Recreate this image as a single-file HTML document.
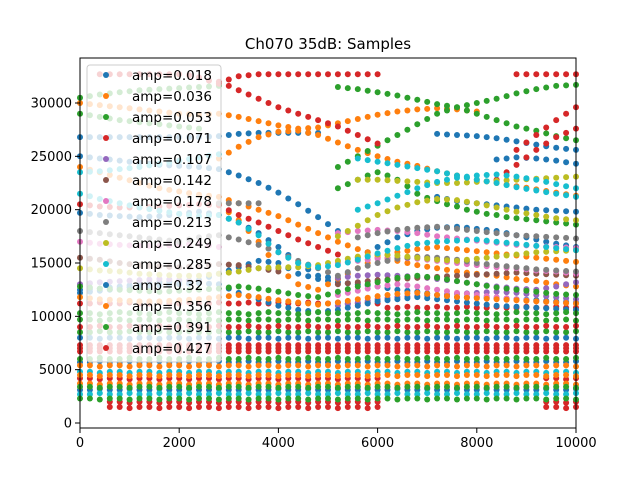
<!DOCTYPE html>
<html><head><meta charset="utf-8"><style>
body{margin:0;background:#fff;}
svg{display:block;font-family:"DejaVu Sans","Liberation Sans",sans-serif;}
</style></head><body>
<svg id="chart" width="640" height="480" viewBox="0 0 640 480">
<rect width="640" height="480" fill="#fff"/>
<text x="328" y="49" text-anchor="middle" font-size="15">Ch070 35dB: Samples</text>
<g id="marks"></g>
<rect x="80" y="58" width="496" height="370" fill="none" stroke="#000" stroke-width="1"/>
<g id="axes"></g>
<g id="legend"></g>
</svg>
<script>
// ---- data (y in thousands of samples) ----
const xTicks = [0, 2000, 4000, 6000, 8000, 10000];
const yTicks = [0, 5000, 10000, 15000, 20000, 25000, 30000];
const amps = ["0.018","0.036","0.053","0.071","0.107","0.142","0.178","0.213","0.249","0.285","0.32","0.356","0.391","0.427"];
const xs51 = [0,200,400,600,800,1000,1200,1400,1600,1800,2000,2200,2400,2600,2800,3000,3200,3400,3600,3800,4000,4200,4400,4600,4800,5000,5200,5400,5600,5800,6000,6200,6400,6600,6800,7000,7200,7400,7600,7800,8000,8200,8400,8600,8800,9000,9200,9400,9600,9800,10000];
const n=null;
const trackSeries = [3,3,2,2,2,1,1,1,1,0,0,0,0,0,9,9,9,8,8,8,7,7,7,6,6,6,4,4,5,5,3,10,11,12];
const trackValues = [
[n,n,32.7,32.7,32.7,32.7,32.7,32.7,32.7,32.7,32.7,32.6,32.4,32.1,31.8,32.2,32.5,32.6,32.7,32.7,32.7,32.7,32.7,32.7,32.7,32.7,32.7,32.7,32.7,32.7,32.7,n,n,n,n,n,n,n,n,n,n,n,n,n,32.7,32.7,32.7,32.7,32.7,32.7,32.7],
[n,n,n,n,n,n,n,n,n,n,n,n,n,n,32.0,31.6,31.2,30.8,30.4,30.0,29.6,29.3,29.0,28.7,28.4,28.1,27.8,27.4,27.0,26.6,26.2,n,n,n,n,n,n,n,n,n,n,n,n,n,25.6,26.3,27.0,27.7,28.4,29.0,29.6],
[30.5,30.65,30.8,30.9,31.0,31.1,31.2,31.25,31.3,31.35,31.4,31.45,31.5,31.55,31.6,n,n,n,n,n,n,n,n,n,n,n,31.5,31.4,31.3,31.15,31.0,30.85,30.7,30.5,30.3,30.1,29.9,29.75,29.6,29.8,30.0,30.2,30.4,30.65,30.9,31.1,31.3,31.45,31.6,31.65,31.7],
[29.0,28.85,28.7,28.55,28.4,28.3,28.2,28.1,28.0,27.9,27.8,27.7,27.6,n,n,n,n,n,n,n,n,n,n,n,n,n,24.0,24.5,25.0,25.5,26.0,26.5,27.0,27.5,28.0,28.5,29.0,29.3,29.6,29.3,29.0,28.7,28.4,28.1,27.8,27.6,27.4,27.15,26.9,26.7,26.5],
[n,n,n,n,n,n,n,n,n,n,n,n,n,n,n,n,n,n,n,n,n,n,n,n,n,n,22.0,22.4,22.8,23.2,23.5,23.2,22.8,22.2,21.5,21.1,20.8,20.5,20.3,20.0,19.8,19.6,19.5,19.3,19.2,19.1,19.0,18.9,18.8,18.7,18.6],
[30.0,29.9,29.8,29.7,29.6,29.5,29.4,29.3,29.2,29.1,29.0,28.95,28.9,28.95,29.0,28.85,28.7,28.5,28.3,28.1,27.9,27.75,27.6,27.65,27.7,27.9,28.1,28.3,28.5,28.7,28.9,29.05,29.2,29.3,29.4,29.45,29.5,29.45,29.4,29.3,29.2,n,n,n,n,n,n,n,n,n,n],
[n,n,n,n,n,n,n,n,n,n,n,n,n,n,24.8,25.35,25.9,26.35,26.8,27.05,27.3,27.35,27.4,27.2,27.0,26.65,26.3,25.95,25.6,25.3,25.0,24.75,24.5,24.3,24.1,23.85,23.6,23.4,23.2,23.0,22.8,22.65,22.5,22.35,22.2,22.05,21.9,21.75,21.6,21.45,21.3],
[24.0,23.75,23.5,23.25,23.0,22.75,22.5,22.25,22.0,21.85,21.7,21.55,21.4,21.3,21.2,20.9,20.6,20.3,20.0,19.7,19.4,19.0,18.6,18.2,17.8,17.4,17.0,16.65,16.3,16.0,15.7,15.45,15.2,15.0,14.8,14.65,14.5,14.35,14.2,14.1,14.0,13.9,13.8,13.65,13.5,13.4,13.3,13.15,13.0,12.9,12.8],
[n,n,n,n,n,n,n,n,n,n,n,n,n,n,20.5,19.75,19.0,18.0,17.0,15.75,14.5,13.75,13.0,12.75,12.5,13.0,13.5,14.0,14.5,15.0,15.5,15.75,16.0,16.15,16.3,16.4,16.5,16.4,16.3,16.2,16.1,16.0,15.9,15.8,15.7,15.6,15.5,15.4,15.3,15.2,15.1],
[26.8,26.8,26.8,26.8,26.8,26.8,26.8,26.8,26.8,26.8,26.8,26.8,26.8,26.85,26.9,27.0,27.1,27.15,27.2,27.2,27.2,27.2,27.2,27.2,27.2,n,n,n,n,n,n,n,n,n,n,n,27.1,27.05,27.0,26.95,26.9,26.8,26.7,26.55,26.4,26.25,26.1,25.95,25.8,25.7,25.6],
[25.0,24.9,24.8,24.7,24.6,24.5,24.4,24.3,24.2,24.15,24.1,24.05,24.0,23.9,23.8,23.5,23.2,22.85,22.5,22.05,21.6,21.05,20.5,19.9,19.3,18.65,18.0,n,n,n,n,n,n,n,n,n,n,n,n,n,n,n,24.7,24.8,24.9,24.85,24.8,24.7,24.6,24.45,24.3],
[19.7,19.6,19.5,19.45,19.4,19.35,19.3,19.35,19.4,19.5,19.6,19.7,19.8,19.65,19.5,19.15,18.8,18.3,17.8,17.15,16.5,15.75,15.0,14.4,13.8,13.65,13.5,n,n,n,n,n,n,n,n,n,21.2,21.0,20.8,20.7,20.6,20.5,20.4,20.3,20.2,20.1,20.0,19.95,19.9,19.85,19.8],
[n,n,n,n,n,n,n,n,n,n,n,n,n,n,n,n,n,n,n,n,n,n,n,n,n,n,n,n,15.5,16.0,16.5,16.95,17.4,17.7,18.0,18.15,18.3,18.35,18.4,18.3,18.2,18.1,18.0,17.8,17.6,17.4,17.2,17.0,16.8,16.65,16.5],
[12.5,12.55,12.6,12.7,12.8,12.9,13.0,13.1,13.2,13.25,13.3,13.35,13.4,13.7,14.0,14.3,14.6,14.9,15.2,15.1,15.0,14.5,14.0,13.75,13.5,13.35,13.2,13.1,13.0,12.9,12.8,12.65,12.5,12.4,12.3,12.15,12.0,11.9,11.8,11.8,11.8,11.75,11.7,11.65,11.6,11.55,11.5,11.45,11.4,11.35,11.3],
[23.5,23.55,23.6,23.7,23.8,23.9,24.0,24.15,24.3,24.45,24.6,24.75,24.9,25.05,25.2,n,n,n,n,n,n,n,n,n,n,n,n,n,24.8,24.65,24.5,24.35,24.2,24.05,23.9,23.75,23.6,23.4,23.2,23.0,22.8,22.65,22.5,22.3,22.1,21.95,21.8,21.65,21.5,21.35,21.2],
[n,n,n,n,n,n,n,n,n,n,n,n,n,n,n,n,n,n,n,n,n,n,n,n,n,n,n,n,20.0,20.3,20.6,20.95,21.3,21.65,22.0,22.3,22.6,22.8,23.0,23.1,23.2,23.25,23.3,23.2,23.1,22.95,22.8,22.6,22.4,22.2,22.0],
[21.5,21.25,21.0,20.8,20.6,20.4,20.2,20.05,19.9,19.75,19.6,19.5,19.4,19.45,19.5,19.15,18.8,18.2,17.6,16.8,16.0,15.5,15.0,14.8,14.6,14.7,14.8,15.05,15.3,15.6,15.9,16.15,16.4,16.6,16.8,16.9,17.0,17.05,17.1,17.15,17.2,17.1,17.0,16.9,16.8,16.7,16.6,16.5,16.4,16.3,16.2],
[n,n,n,n,n,n,n,n,n,n,n,n,n,n,n,n,n,n,n,n,n,n,n,n,n,n,n,n,22.8,22.8,22.8,22.75,22.7,22.65,22.6,22.55,22.5,22.5,22.5,22.55,22.6,22.65,22.7,22.75,22.8,22.85,22.9,22.95,23.0,23.05,23.1],
[n,n,n,n,n,n,n,n,n,n,n,n,n,n,n,n,n,n,n,n,n,n,n,n,n,n,17.5,18.0,18.5,19.0,19.5,19.85,20.2,20.45,20.7,20.85,21.0,20.95,20.9,20.75,20.6,20.4,20.2,20.0,19.8,19.65,19.5,19.35,19.2,19.1,19.0],
[14.5,14.4,14.3,14.25,14.2,14.1,14.0,13.95,13.9,13.85,13.8,13.8,13.8,13.9,14.0,14.1,14.2,14.35,14.5,14.55,14.6,14.6,14.6,14.7,14.8,15.0,15.2,15.4,15.6,15.7,15.8,15.75,15.7,15.6,15.5,15.4,15.3,15.25,15.2,15.3,15.4,15.5,15.6,15.7,15.8,15.9,16.0,16.05,16.1,16.15,16.2],
[n,n,n,n,n,n,n,n,n,n,n,n,n,n,20.6,20.6,20.6,20.6,20.6,n,n,n,n,n,n,n,n,n,n,n,n,n,n,n,n,n,n,n,n,n,n,n,n,n,n,n,n,n,n,n,n],
[18.0,17.9,17.8,17.7,17.6,17.5,17.4,17.3,17.2,17.1,17.0,17.2,17.4,17.5,17.6,17.4,17.2,16.95,16.7,16.35,16.0,15.6,15.2,14.85,14.5,14.15,13.8,14.15,14.5,14.75,15.0,15.2,15.4,15.5,15.6,15.55,15.5,15.4,15.3,15.15,15.0,14.9,14.8,14.7,14.6,14.5,14.4,14.35,14.3,14.25,14.2],
[n,n,n,n,n,n,n,n,n,n,n,n,n,n,n,n,n,n,n,n,n,n,n,n,n,n,n,n,17.4,17.6,17.8,17.95,18.1,18.2,18.3,18.35,18.4,18.3,18.2,18.1,18.0,17.9,17.8,17.7,17.6,17.55,17.5,17.45,17.4,17.35,17.3],
[n,n,n,n,n,n,n,n,n,n,n,n,n,n,n,n,n,n,n,n,n,n,n,n,n,n,17.8,17.9,18.0,18.05,18.1,18.05,18.0,17.9,17.8,17.65,17.5,17.4,17.3,17.2,17.1,17.0,16.9,16.8,16.7,16.65,16.6,16.55,16.5,16.45,16.4],
[17.0,16.9,16.8,16.75,16.7,16.65,16.6,16.6,16.6,16.65,16.7,16.75,16.8,16.65,16.5,n,n,n,n,n,n,n,n,n,n,n,15.0,15.1,15.2,15.3,15.4,15.45,15.5,15.45,15.4,15.3,15.2,15.1,15.0,14.9,14.8,14.7,14.6,14.55,14.5,14.4,14.3,14.25,14.2,14.1,14.0],
[n,n,n,n,n,n,n,n,n,n,n,n,n,n,n,n,n,n,n,n,n,n,n,n,n,n,12.0,12.2,12.4,12.6,12.8,12.9,13.0,12.9,12.8,12.65,12.5,12.35,12.2,12.1,12.0,11.9,11.8,11.7,11.6,11.5,11.4,11.35,11.3,11.25,11.2],
[13.0,13.1,13.2,13.25,13.3,13.35,13.4,13.45,13.5,13.45,13.4,13.3,13.2,n,n,n,n,n,n,n,n,n,n,n,n,n,13.6,13.7,13.8,13.85,13.9,13.85,13.8,13.75,13.7,13.6,13.5,13.4,13.3,13.15,13.0,12.9,12.8,12.7,12.6,12.55,12.5,12.65,12.8,13.0,13.2],
[n,n,n,n,n,n,n,n,n,n,n,n,n,n,n,n,n,n,n,n,n,n,n,n,n,n,11.0,11.15,11.3,11.45,11.6,11.7,11.8,11.85,11.9,11.95,12.0,12.05,12.1,12.15,12.2,12.25,12.3,12.25,12.2,12.1,12.0,11.9,11.8,11.7,11.6],
[n,n,n,n,n,n,n,n,n,n,n,n,n,n,n,n,n,n,n,n,n,n,n,n,n,n,13.0,13.1,13.2,13.3,13.4,13.45,13.5,13.55,13.6,13.65,13.7,13.75,13.8,13.85,13.9,13.95,14.0,14.05,14.1,14.05,14.0,13.95,13.9,13.85,13.8],
[15.5,15.4,15.3,15.15,15.0,14.9,14.8,14.75,14.7,14.65,14.6,14.65,14.7,14.8,14.9,14.85,14.8,14.65,14.5,14.35,14.2,n,n,n,n,n,n,n,n,n,n,n,n,n,n,n,n,n,n,n,n,n,n,n,n,n,n,n,n,n,n],
[20.5,20.4,20.3,20.25,20.2,20.2,20.2,20.25,20.3,20.35,20.4,20.45,20.5,20.45,20.4,19.95,19.5,19.15,18.8,18.4,18.0,17.6,17.2,16.85,16.5,16.15,15.8,n,n,n,n,n,n,n,n,n,n,n,n,n,n,n,22.8,23.5,24.2,24.9,25.6,26.2,26.8,27.2,27.6],
[12.2,12.3,12.4,12.5,12.6,12.7,12.8,12.85,12.9,12.95,13.0,13.05,13.1,13.05,13.0,12.6,12.2,11.9,11.6,11.3,11.0,10.8,10.6,10.5,10.4,10.5,10.6,10.8,11.0,11.2,11.4,11.5,11.6,11.7,11.8,11.7,11.6,11.5,11.4,11.3,11.2,11.1,11.0,10.95,10.9,10.85,10.8,10.75,10.7,10.65,10.6],
[11.8,11.7,11.6,11.55,11.5,11.45,11.4,11.4,11.4,11.45,11.5,11.55,11.6,11.7,11.8,11.9,12.0,11.9,11.8,11.65,11.5,11.4,11.3,11.2,11.1,11.2,11.3,11.45,11.6,11.75,11.9,12.0,12.1,12.15,12.2,12.1,12.0,11.9,11.8,11.75,11.7,11.65,11.6,11.55,11.5,11.45,11.4,11.35,11.3,11.25,11.2],
[12.8,12.7,12.6,12.55,12.5,12.45,12.4,12.35,12.3,12.35,12.4,12.45,12.5,12.55,12.6,12.7,12.8,12.7,12.6,12.45,12.3,12.15,12.0,11.9,11.8,12.05,12.3,12.55,12.8,13.0,13.2,13.4,13.6,13.7,13.8,13.7,13.6,13.45,13.3,13.15,13.0,12.85,12.7,12.6,12.5,12.4,12.3,12.2,12.1,12.05,12.0]
];
// dense lower bands
const bandSeries = [12,3,12,0,12,11,9,3,0,12,11,3,3,13,13,13,13,12,10,11,12,9];
const bandValues = [
[10.3,10.3,10.2,10.3,10.4,10.3,10.3,10.2,10.3,10.4,10.3,10.3,10.2,10.3,10.4,10.3,10.3,10.2,10.3,10.4,10.3,10.3,10.2,10.3,10.4,10.3,10.3,10.2,10.3,10.4,10.3,10.3,10.2,10.3,10.4,10.3,10.3,10.2,10.3,10.4,10.3,10.3,10.2,10.3,10.4,10.3,10.3,10.2,10.3,10.4,10.3],
[11.2,11.2,11.3,11.2,11.2,11.3,11.2,11.2,11.3,11.2,11.2,11.3,11.2,11.2,11.3,11.2,11.2,11.3,11.2,11.2,11.3,11.2,11.2,11.3,11.2,11.2,11.3,11.2,11.2,11.3,11.2,10.8,10.8,10.9,10.8,10.8,10.9,10.8,10.8,10.9,10.8,10.8,10.9,10.8,10.8,10.9,10.8,10.8,10.9,10.8,10.8],
[8.5,8.5,8.6,8.5,8.5,8.6,8.5,8.5,8.6,8.5,8.5,8.6,8.5,8.5,8.6,8.5,8.5,8.6,8.5,8.5,8.6,8.5,8.5,8.6,8.5,8.5,8.6,8.5,8.5,8.6,8.5,8.5,8.6,8.5,8.5,8.6,8.5,8.5,8.6,8.5,8.5,8.6,8.5,8.5,8.6,8.5,8.5,8.6,8.5,8.5,8.6],
[8.0,8.0,7.9,8.0,8.0,7.9,8.0,8.0,7.9,8.0,8.0,7.9,8.0,8.0,7.9,8.0,8.0,7.9,8.0,8.0,7.9,8.0,8.0,7.9,8.0,8.0,7.9,8.0,8.0,7.9,8.0,8.0,7.9,8.0,8.0,7.9,8.0,8.0,7.9,8.0,8.0,7.9,8.0,8.0,7.9,8.0,8.0,7.9,8.0,8.0,7.9],
[6.0,6.0,6.1,6.0,6.0,6.1,6.0,6.0,6.1,6.0,6.0,6.1,6.0,6.0,6.1,6.0,6.0,6.1,6.0,6.0,6.1,6.0,6.0,6.1,6.0,6.0,6.1,6.0,6.0,6.1,6.0,6.0,6.1,6.0,6.0,6.1,6.0,6.0,6.1,6.0,6.0,6.1,6.0,6.0,6.1,6.0,6.0,6.1,6.0,6.0,6.1],
[5.4,5.4,5.3,5.4,5.4,5.3,5.4,5.4,5.3,5.4,5.4,5.3,5.4,5.4,5.3,5.4,5.4,5.3,5.4,5.4,5.3,5.4,5.4,5.3,5.4,5.4,5.3,5.4,5.4,5.3,5.4,5.4,5.3,5.4,5.4,5.3,5.4,5.4,5.3,5.4,5.4,5.3,5.4,5.4,5.3,5.4,5.4,5.3,5.4,5.4,5.3],
[4.8,4.8,4.7,4.8,4.8,4.7,4.8,4.8,4.7,4.8,4.8,4.7,4.8,4.8,4.7,4.8,4.8,4.7,4.8,4.8,4.7,4.8,4.8,4.7,4.8,4.8,4.7,4.8,4.8,4.7,4.8,4.8,4.7,4.8,4.8,4.7,4.8,4.8,4.7,4.8,4.8,4.7,4.8,4.8,4.7,4.8,4.8,4.7,4.8,4.8,4.7],
[4.2,4.2,4.1,4.2,4.2,4.1,4.2,4.2,4.1,4.2,4.2,4.1,4.2,4.2,4.1,4.2,4.2,4.1,4.2,4.2,4.1,4.2,4.2,4.1,4.2,4.2,4.1,4.2,4.2,4.1,4.2,n,n,n,n,n,n,n,n,n,n,n,n,n,n,n,n,4.2,4.2,4.1,4.2],
[3.1,3.1,3.2,3.1,3.1,3.2,3.1,3.1,3.2,3.1,3.1,3.2,3.1,3.1,3.2,3.1,3.1,3.2,3.1,3.1,3.2,3.1,3.1,3.2,3.1,3.1,3.2,3.1,3.1,3.2,3.1,3.1,3.2,3.1,3.1,3.2,3.1,3.1,3.2,3.1,3.1,3.2,3.1,3.1,3.2,3.1,3.1,3.2,3.1,3.1,3.2],
[2.3,2.3,2.2,2.3,2.3,2.2,2.3,2.3,2.2,2.3,2.3,2.2,2.3,2.3,2.2,2.3,2.3,2.2,2.3,2.3,2.2,2.3,2.3,2.2,2.3,2.3,2.2,2.3,2.3,2.2,2.3,2.3,2.2,2.3,2.3,2.2,2.3,2.3,2.2,2.3,2.3,2.2,2.3,2.3,2.2,2.3,2.3,2.2,2.3,2.3,2.2],
[3.7,3.7,3.6,3.7,3.7,3.6,3.7,3.7,3.6,3.7,3.7,3.6,3.7,3.7,3.6,3.7,3.7,3.6,3.7,3.7,3.6,3.7,3.7,3.6,3.7,3.7,3.6,3.7,3.7,3.6,3.7,3.7,3.6,3.7,3.7,3.6,3.7,3.7,3.6,3.7,3.7,3.6,3.7,3.7,3.6,3.7,3.7,3.6,3.7,3.7,3.6],
[n,n,n,2.0,2.0,1.9,2.0,2.0,1.9,2.0,2.0,1.9,2.0,2.0,1.9,2.0,2.0,1.9,2.0,2.0,1.9,2.0,2.0,1.9,2.0,2.0,1.9,2.0,2.0,1.9,2.0,n,n,n,n,n,n,n,n,n,n,n,n,n,n,n,n,2.0,2.0,1.9,2.0],
[n,n,n,1.5,1.5,1.4,1.5,1.5,1.4,1.5,1.5,1.4,1.5,1.5,1.4,1.5,1.5,1.4,1.5,1.5,1.4,1.5,1.5,1.4,1.5,1.5,1.4,1.5,1.5,1.4,1.5,n,n,n,n,n,n,n,n,n,n,n,n,n,n,n,n,1.5,1.5,1.4,1.5],
[9.0,9.0,9.1,9.0,9.0,9.1,9.0,9.0,9.1,9.0,9.0,9.1,9.0,9.0,9.1,9.0,9.0,9.1,9.0,9.0,9.1,9.0,9.0,9.1,9.0,9.0,9.1,9.0,9.0,9.1,9.0,9.0,9.1,9.0,9.0,9.1,9.0,9.0,9.1,9.0,9.0,9.1,9.0,9.0,9.1,9.0,9.0,9.1,9.0,9.0,9.1],
[7.3,7.3,7.3,7.3,7.3,7.3,7.3,7.3,7.3,7.3,7.3,7.3,7.3,7.3,7.3,7.3,7.3,7.3,7.3,7.3,7.3,7.3,7.3,7.3,7.3,7.3,7.3,7.3,7.3,7.3,7.3,7.3,7.3,7.3,7.3,7.3,7.3,7.3,7.3,7.3,7.3,7.3,7.3,7.3,7.3,7.3,7.3,7.3,7.3,7.3,7.3],
[7.0,7.0,7.0,7.0,7.0,7.0,7.0,7.0,7.0,7.0,7.0,7.0,7.0,7.0,7.0,7.0,7.0,7.0,7.0,7.0,7.0,7.0,7.0,7.0,7.0,7.0,7.0,7.0,7.0,7.0,7.0,7.0,7.0,7.0,7.0,7.0,7.0,7.0,7.0,7.0,7.0,7.0,7.0,7.0,7.0,7.0,7.0,7.0,7.0,7.0,7.0],
[6.7,6.7,6.7,6.7,6.7,6.7,6.7,6.7,6.7,6.7,6.7,6.7,6.7,6.7,6.7,6.7,6.7,6.7,6.7,6.7,6.7,6.7,6.7,6.7,6.7,6.7,6.7,6.7,6.7,6.7,6.7,6.7,6.7,6.7,6.7,6.7,6.7,6.7,6.7,6.7,6.7,6.7,6.7,6.7,6.7,6.7,6.7,6.7,6.7,6.7,6.7],
[9.7,9.7,9.6,9.7,9.7,9.6,9.7,9.7,9.6,9.7,9.7,9.6,9.7,9.7,9.6,9.7,9.7,9.6,9.7,9.7,9.6,9.7,9.7,9.6,9.7,9.7,9.6,9.7,9.7,9.6,9.7,9.7,9.6,9.7,9.7,9.6,9.7,9.7,9.6,9.7,9.7,9.6,9.7,9.7,9.6,9.7,9.7,9.6,9.7,9.7,9.6],
[5.7,5.7,5.8,5.7,5.7,5.8,5.7,5.7,5.8,5.7,5.7,5.8,5.7,5.7,5.8,5.7,5.7,5.8,5.7,5.7,5.8,5.7,5.7,5.8,5.7,5.7,5.8,5.7,5.7,5.8,5.7,5.7,5.8,5.7,5.7,5.8,5.7,5.7,5.8,5.7,5.7,5.8,5.7,5.7,5.8,5.7,5.7,5.8,5.7,5.7,5.8],
[4.5,4.5,4.4,4.5,4.5,4.4,4.5,4.5,4.4,4.5,4.5,4.4,4.5,4.5,4.4,4.5,4.5,4.4,4.5,4.5,4.4,4.5,4.5,4.4,4.5,4.5,4.4,4.5,4.5,4.4,4.5,4.5,4.4,4.5,4.5,4.4,4.5,4.5,4.4,4.5,4.5,4.4,4.5,4.5,4.4,4.5,4.5,4.4,4.5,4.5,4.4],
[3.4,3.4,3.3,3.4,3.4,3.3,3.4,3.4,3.3,3.4,3.4,3.3,3.4,3.4,3.3,3.4,3.4,3.3,3.4,3.4,3.3,3.4,3.4,3.3,3.4,3.4,3.3,3.4,3.4,3.3,3.4,3.4,3.3,3.4,3.4,3.3,3.4,3.4,3.3,3.4,3.4,3.3,3.4,3.4,3.3,3.4,3.4,3.3,3.4,3.4,3.3],
[2.7,2.7,2.8,2.7,2.7,2.8,2.7,2.7,2.8,2.7,2.7,2.8,2.7,2.7,2.8,2.7,2.7,2.8,2.7,2.7,2.8,2.7,2.7,2.8,2.7,2.7,2.8,2.7,2.7,2.8,2.7,2.7,2.8,2.7,2.7,2.8,2.7,2.7,2.8,2.7,2.7,2.8,2.7,2.7,2.8,2.7,2.7,2.8,2.7,2.7,2.8]
];
const palette = ["#1f77b4","#ff7f0e","#2ca02c","#d62728","#9467bd","#8c564b","#e377c2","#7f7f7f","#bcbd22","#17becf","#1f77b4","#ff7f0e","#2ca02c","#d62728"];

const NS="http://www.w3.org/2000/svg";
const X0=80,X1=576,YB=423,YT=103;
function xScale(v){return X0+(v-0)/(10000-0)*(X1-X0);}
function yScale(v){return YB-(v-0)/(30000-0)*(YB-YT);}
const marks=document.getElementById('marks');
function dot(x,yk,s){
  if(yk===null||yk===undefined) return;
  const c=document.createElementNS(NS,'circle');
  c.setAttribute('cx',xScale(x).toFixed(1));
  c.setAttribute('cy',yScale(yk*1000).toFixed(1));
  c.setAttribute('r',3);
  c.setAttribute('fill',palette[s]);
  
  
  marks.appendChild(c);
}
const items=[];
trackValues.forEach((vals,t)=>items.push({s:trackSeries[t],vals}));
bandValues.forEach((vals,t)=>items.push({s:bandSeries[t],vals}));
items.sort((a,b)=>a.s-b.s);
items.forEach(it=>it.vals.forEach((v,i)=>dot(xs51[i],v,it.s)));

const axes=document.getElementById('axes');
function add(parent,tag,attrs,text){const e=document.createElementNS(NS,tag);for(const k in attrs)e.setAttribute(k,attrs[k]);if(text!==undefined)e.textContent=text;parent.appendChild(e);return e;}
xTicks.forEach(v=>{
  const x=xScale(v);
  const l=add(axes,'line',{x1:x,x2:x,y1:428,y2:433,stroke:'#000'});
  
  
  const t=add(axes,'text',{x:x,y:447,'text-anchor':'middle','font-size':13},String(v));
  
  
});
yTicks.forEach(v=>{
  const y=yScale(v);
  const l=add(axes,'line',{x1:75,x2:80,y1:y,y2:y,stroke:'#000'});
  
  
  const t=add(axes,'text',{x:72,y:y+4.5,'text-anchor':'end','font-size':13},String(v));
  
  
});
const lg=document.getElementById('legend');
const box=add(lg,'rect',{x:87,y:65,width:134,height:297,rx:3,fill:'#fff','fill-opacity':0.8,stroke:'#ccc'});


amps.forEach((a,i)=>{
  const y=75+i*21;
  const c=add(lg,'circle',{cx:106,cy:y,r:3,fill:palette[i]});
  
  
  const t=add(lg,'text',{x:132,y:y+5,'font-size':13.5},'amp='+a);
  
  
});
</script>
</body></html>
